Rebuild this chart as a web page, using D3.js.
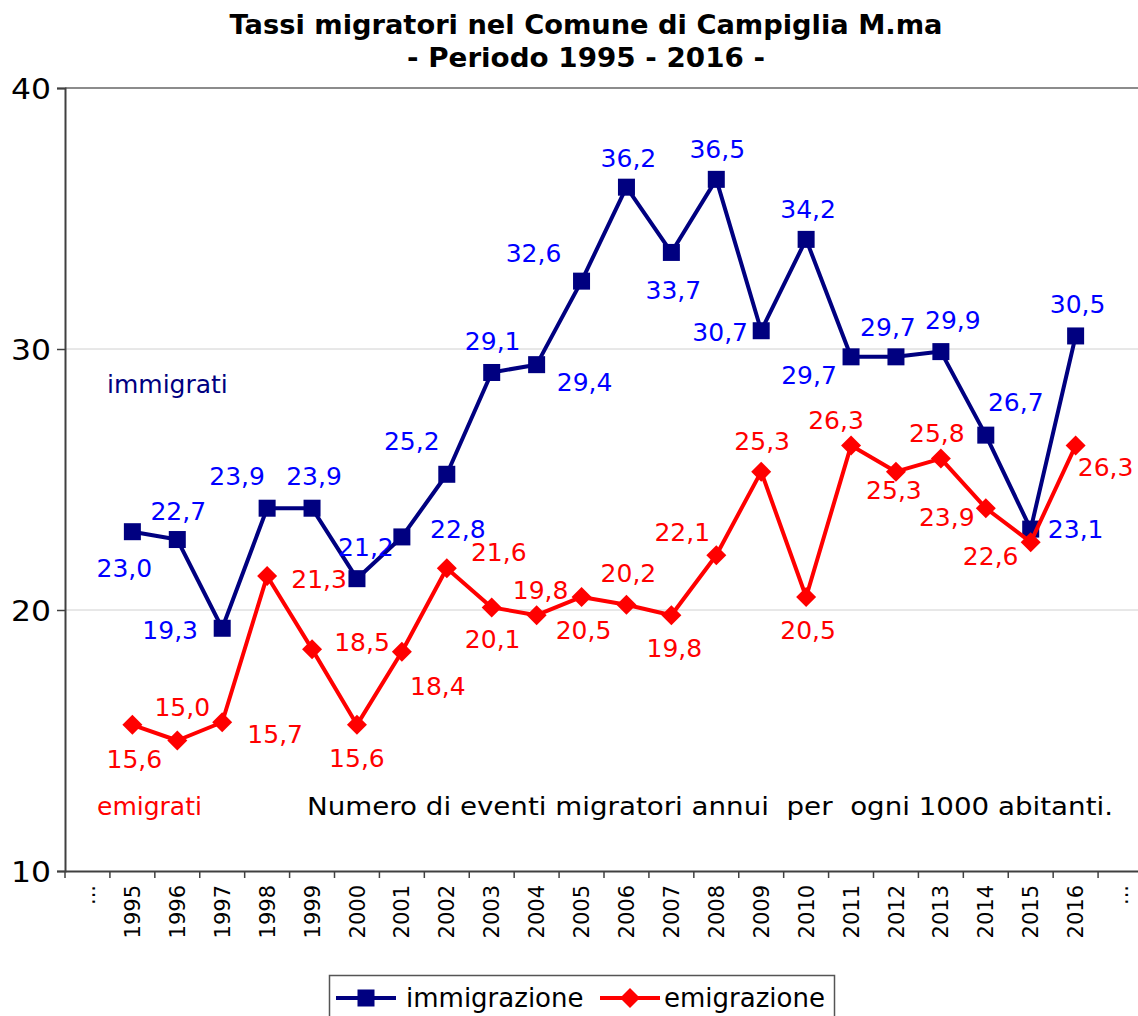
<!DOCTYPE html>
<html>
<head>
<meta charset="utf-8">
<script src="https://cdn.jsdelivr.net/npm/d3@7"></script>
<style>
body { margin: 0; background: #fff; }
svg { display: block; font-family: "DejaVu Sans", Verdana, sans-serif; }
</style>
</head>
<body>
<svg id="chart" width="1138" height="1016"></svg>
<script>
// categories on the x axis (with the "..." placeholders at both ends)
var categories = ["...", "1995", "1996", "1997", "1998", "1999", "2000", "2001", "2002", "2003", "2004",
    "2005", "2006", "2007", "2008", "2009", "2010", "2011", "2012", "2013", "2014", "2015", "2016", "..."];
var years = categories.slice(1, 23);

var immigrazione = [23.0, 22.7, 19.3, 23.9, 23.9, 21.2, 22.8, 25.2, 29.1, 29.4, 32.6,
    36.2, 33.7, 36.5, 30.7, 34.2, 29.7, 29.7, 29.9, 26.7, 23.1, 30.5];
var emigrazione = [15.6, 15.0, 15.7, 21.3, 18.5, 15.6, 18.4, 21.6, 20.1, 19.8, 20.5,
    20.2, 19.8, 22.1, 25.3, 20.5, 26.3, 25.3, 25.8, 23.9, 22.6, 26.3];

var yTicks = [10, 20, 30, 40];

// where each value label sits relative to its point
var immLabelOffset = [[-8, 36], [1, -29], [-52, 2], [-30, -32], [2, -32], [9, -32], [56, -8], [-35, -33],
    [1, -31], [48, 17], [-48, -28], [2, -29], [2, 38], [1, -30], [-41, 1], [2, -30], [-42, 18],
    [-8, -30], [12, -32], [30, -33], [45, 0], [2, -32]];
var emiLabelOffset = [[2, 34], [5, -34], [53, 12], [52, 3], [50, -7], [0, 33], [36, 34], [52, -16],
    [1, 32], [4, -25], [2, 33], [2, -32], [3, 33], [-34, -23], [1, -31], [2, 33], [-15, -26],
    [-2, 18], [-4, -26], [-39, 9], [-40, 14], [30, 21]];

var series = [
    { name: "immigrazione", values: immigrazione, line: "#000080", label: "#0000ff", marker: "square", offsets: immLabelOffset },
    { name: "emigrazione", values: emigrazione, line: "#ff0000", label: "#ff0000", marker: "diamond", offsets: emiLabelOffset }
];

var svg = d3.select("#chart");

var plotLeft = 65, plotRight = 1143, plotTop = 88, plotBottom = 871;

var x = d3.scaleBand()
    .domain(d3.range(categories.length))
    .range([plotLeft, plotRight]);

var y = d3.scaleLinear()
    .domain([10, 40])
    .range([plotBottom, plotTop]);

function xc(i) { return x(i + 1) + x.bandwidth() / 2; }

// title
svg.append("text")
    .attr("x", 586).attr("y", 34)
    .attr("text-anchor", "middle")
    .attr("font-weight", "bold").attr("font-size", 26)
    .attr("textLength", 713).attr("lengthAdjust", "spacingAndGlyphs")
    .text("Tassi migratori nel Comune di Campiglia M.ma");
svg.append("text")
    .attr("x", 586).attr("y", 67)
    .attr("text-anchor", "middle")
    .attr("font-weight", "bold").attr("font-size", 26)
    .attr("textLength", 358).attr("lengthAdjust", "spacingAndGlyphs")
    .text("- Periodo 1995 - 2016 -");

// gridlines
svg.append("g").selectAll("line")
    .data(yTicks.filter(function (d) { return d > 10; }))
    .join("line")
    .attr("x1", plotLeft).attr("x2", plotRight)
    .attr("y1", function (d) { return y(d); })
    .attr("y2", function (d) { return y(d); })
    .attr("stroke", function (d) { return d === 40 ? "#8c8c8c" : "#d0d0d0"; })
    .attr("stroke-width", function (d) { return d === 40 ? 2 : 1; });

// y axis
var yAxis = svg.append("g")
    .attr("transform", "translate(" + plotLeft + ",0)")
    .call(d3.axisLeft(y).tickValues(yTicks).tickSize(8).tickPadding(6));
yAxis.select(".domain").attr("stroke", "#404040").attr("stroke-width", 2);
yAxis.selectAll(".tick line").attr("stroke", "#404040").attr("stroke-width", 1.5);
yAxis.selectAll(".tick text")
    .attr("font-size", 28).attr("fill", "#000")
    .attr("font-family", "DejaVu Sans, sans-serif")
    .attr("textLength", 40).attr("lengthAdjust", "spacingAndGlyphs")
    .attr("dy", "0.36em");

// x axis
var xAxis = svg.append("g")
    .attr("transform", "translate(0," + plotBottom + ")")
    .call(d3.axisBottom(x).tickFormat(function (i) { return categories[i]; }).tickSize(0).tickPadding(0));
xAxis.select(".domain").attr("stroke", "#404040").attr("stroke-width", 2);
xAxis.selectAll(".tick text")
    .attr("font-size", 21).attr("fill", "#000")
    .attr("font-family", "DejaVu Sans, sans-serif")
    .attr("text-anchor", "end")
    .attr("transform", "rotate(-90)")
    .attr("x", -14).attr("y", 0).attr("dy", "0.36em");

// tick marks at band boundaries
xAxis.append("g").selectAll("line")
    .data(d3.range(categories.length + 1))
    .join("line")
    .attr("x1", function (i) { return plotLeft + i * x.step(); })
    .attr("x2", function (i) { return plotLeft + i * x.step(); })
    .attr("y1", 0).attr("y2", 7)
    .attr("stroke", "#404040").attr("stroke-width", 1.5);

// series lines, markers and labels
var line = d3.line()
    .x(function (d, i) { return xc(i); })
    .y(function (d) { return y(d); });

function drawMarker(g, type, color) {
    if (type === "square") {
        g.append("rect").attr("x", -8.5).attr("y", -8.5).attr("width", 17).attr("height", 17).attr("fill", color);
    } else {
        g.append("path").attr("d", "M0,-10L10,0L0,10L-10,0Z").attr("fill", color);
    }
}

series.forEach(function (s) {
    svg.append("path")
        .datum(s.values)
        .attr("d", line)
        .attr("fill", "none")
        .attr("stroke", s.line)
        .attr("stroke-width", 4)
        .attr("stroke-linejoin", "round");

    var pts = svg.append("g").selectAll("g")
        .data(s.values)
        .join("g")
        .attr("transform", function (d, i) { return "translate(" + xc(i) + "," + y(d) + ")"; });
    pts.each(function () { drawMarker(d3.select(this), s.marker, s.line); });
});

series.forEach(function (s) {
    svg.append("g").selectAll("text")
        .data(s.values)
        .join("text")
        .attr("x", function (d, i) { return xc(i) + s.offsets[i][0]; })
        .attr("y", function (d, i) { return y(d) + s.offsets[i][1]; })
        .attr("dy", "0.36em")
        .attr("text-anchor", "middle")
        .attr("font-size", 25)
        .attr("fill", s.label)
        .text(function (d) { return d3.format(".1f")(d).replace(".", ","); });
});

// annotations
svg.append("text").attr("x", 107).attr("y", 393)
    .attr("font-size", 25).attr("fill", "#000080").text("immigrati");
svg.append("text").attr("x", 97).attr("y", 815)
    .attr("font-size", 25).attr("fill", "#ff0000").text("emigrati");
svg.append("text").attr("x", 307).attr("y", 815)
    .attr("font-size", 25).attr("fill", "#000")
    .style("white-space", "pre")
    .attr("textLength", 806).attr("lengthAdjust", "spacingAndGlyphs")
    .text("Numero di eventi migratori annui  per  ogni 1000 abitanti.");

// legend
var legend = svg.append("g");
legend.append("rect")
    .attr("x", 329.5).attr("y", 975.5).attr("width", 505).attr("height", 60)
    .attr("fill", "#fff").attr("stroke", "#555").attr("stroke-width", 1.5);
var legendX = [336, 600];
series.forEach(function (s, k) {
    var g = legend.append("g").attr("transform", "translate(" + legendX[k] + ",998)");
    g.append("line").attr("x1", 0).attr("x2", 60).attr("y1", 0).attr("y2", 0)
        .attr("stroke", s.line).attr("stroke-width", 4);
    drawMarker(g.append("g").attr("transform", "translate(30,0)"), s.marker, s.line);
    g.append("text").attr("x", k === 0 ? 70 : 64).attr("y", 0).attr("dy", "0.36em")
        .attr("font-size", 26).attr("fill", "#000").text(s.name);
});
</script>
</body>
</html>
